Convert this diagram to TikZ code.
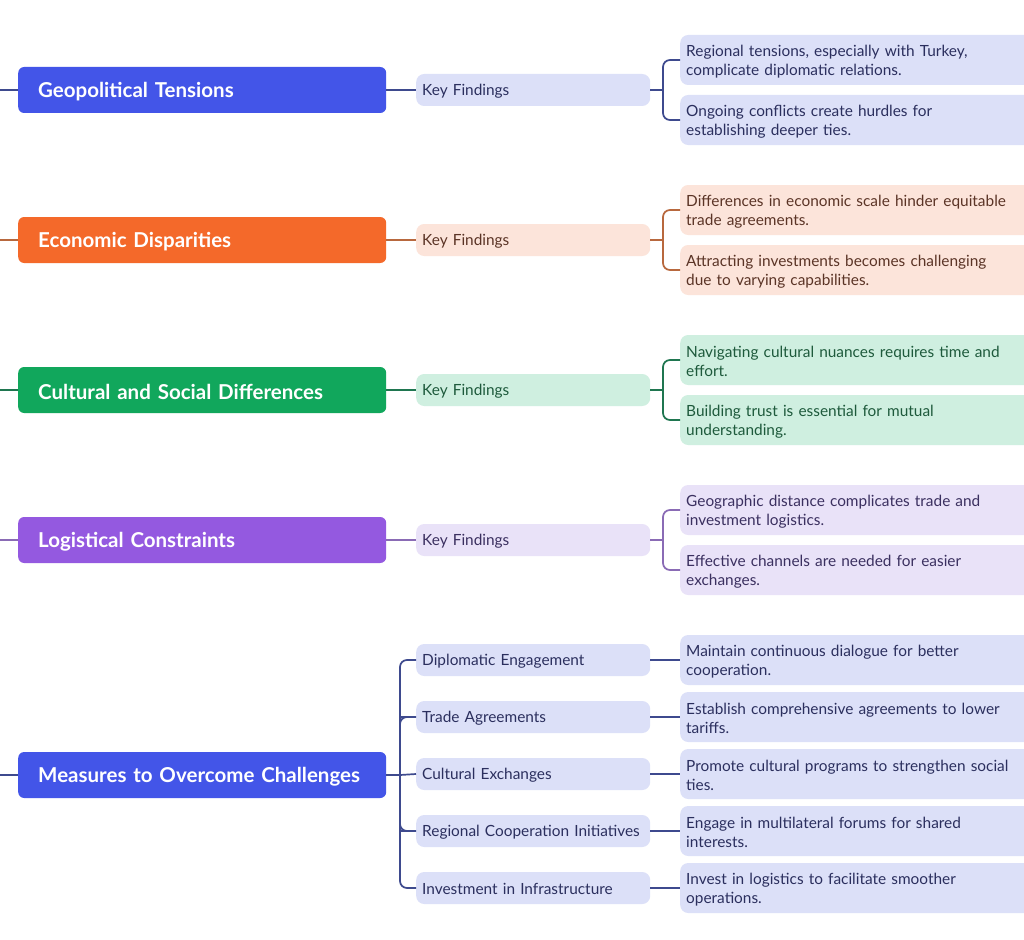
\documentclass[tikz,border=0pt]{standalone}
\usepackage{fontspec}
\setmainfont{Lato}
\definecolor{blueM}{HTML}{4355E8}
\definecolor{blueL}{HTML}{DCE0F8}
\definecolor{blueLine}{HTML}{3E4A8E}
\definecolor{blueText}{HTML}{2B2F5E}
\definecolor{orangeM}{HTML}{F4692A}
\definecolor{orangeL}{HTML}{FCE4DA}
\definecolor{orangeLine}{HTML}{B8683E}
\definecolor{orangeText}{HTML}{5B3426}
\definecolor{greenM}{HTML}{11A75C}
\definecolor{greenL}{HTML}{CFEFE0}
\definecolor{greenLine}{HTML}{1F7650}
\definecolor{greenText}{HTML}{1E5A3C}
\definecolor{purpleM}{HTML}{9459E0}
\definecolor{purpleL}{HTML}{E9E2F8}
\definecolor{purpleLine}{HTML}{8A6BB5}
\definecolor{purpleText}{HTML}{3B3060}
\tikzset{
  mainbox/.style={rounded corners=6pt, minimum height=46pt, text width=328pt, inner xsep=20pt, inner ysep=0pt, align=left, text=white, font=\fontsize{20.5}{24}\selectfont\bfseries, execute at begin node=\rule{0pt}{18.5pt}},
  subbox/.style={rounded corners=8pt, minimum height=32pt, text width=222pt, inner xsep=6pt, inner ysep=0pt, align=left, font=\fontsize{15.4}{19}\selectfont, execute at begin node=\rule{0pt}{13.5pt}},
  leafbox/.style={rounded corners=8pt, minimum height=50pt, text width=340pt, inner xsep=6pt, inner ysep=0pt, align=left, font=\fontsize{15.4}{19}\selectfont, execute at begin node=\rule{0pt}{15pt}},
  conn/.style={line width=1.7pt},
}
\newcommand{\mybranch}[6]{%
  \node[mainbox, fill=#3M, anchor=west] (#1) at (18,#2) {\mbox{#4}};
  \coordinate (#1in) at (0,#2);
  \draw[conn, draw=#3Line] (#1in) -- (#1.west);
  \node[subbox, fill=#3L, text=#3Text, anchor=west] (#1k) at (416,#2) {Key Findings};
  \draw[conn, draw=#3Line] (#1.east) -- (#1k.west);
  \node[leafbox, fill=#3L, text=#3Text, anchor=west] (#1a) at (680,{#2-30}) {#5};
  \node[leafbox, fill=#3L, text=#3Text, anchor=west] (#1b) at (680,{#2+30}) {#6};
  \coordinate (#1x) at (663,#2);
  \draw[conn, draw=#3Line] (#1k.east) -- (#1x);
  \draw[conn, draw=#3Line, rounded corners=7pt] (#1a.west) -| (#1x) |- (#1b.west);
}
\begin{document}
\begin{tikzpicture}[x=1pt, y=-1pt]
\useasboundingbox (0,0) rectangle (1024,939);
\clip (0,0) rectangle (1024,939);
\fill[white] (0,0) rectangle (1024,939);

\mybranch{geo}{90}{blue}{Geopolitical Tensions}{Regional tensions, especially with Turkey,\\complicate diplomatic relations.}{Ongoing conflicts create hurdles for\\establishing deeper ties.}
\mybranch{eco}{240}{orange}{Economic Disparities}{Differences in economic scale hinder equitable\\trade agreements.}{Attracting investments becomes challenging\\due to varying capabilities.}
\mybranch{cul}{390}{green}{Cultural and Social Differences}{Navigating cultural nuances requires time and\\effort.}{Building trust is essential for mutual\\understanding.}
\mybranch{log}{540}{purple}{Logistical Constraints}{Geographic distance complicates trade and\\investment logistics.}{Effective channels are needed for easier\\exchanges.}

% Measures
\node[mainbox, fill=blueM, anchor=west] (mea) at (18,775) {\mbox{Measures to Overcome Challenges}};
\coordinate (meain) at (0,775);
\draw[conn, draw=blueLine] (meain) -- (mea.west);
\coordinate (meax) at (400,775);
\draw[conn, draw=blueLine] (mea.east) -- (meax);

\node[subbox, fill=blueL, text=blueText, anchor=west] (s1) at (416,660) {Diplomatic Engagement};
\node[subbox, fill=blueL, text=blueText, anchor=west] (s2) at (416,717) {Trade Agreements};
\node[subbox, fill=blueL, text=blueText, anchor=west] (s3) at (416,774) {Cultural Exchanges};
\node[subbox, fill=blueL, text=blueText, anchor=west] (s4) at (416,831) {Regional Cooperation Initiatives};
\node[subbox, fill=blueL, text=blueText, anchor=west] (s5) at (416,888) {Investment in Infrastructure};

\node[leafbox, fill=blueL, text=blueText, anchor=west] (t1) at (680,660) {Maintain continuous dialogue for better\\cooperation.};
\node[leafbox, fill=blueL, text=blueText, anchor=west] (t2) at (680,717) {Establish comprehensive agreements to lower\\tariffs.};
\node[leafbox, fill=blueL, text=blueText, anchor=west] (t3) at (680,774) {Promote cultural programs to strengthen social\\ties.};
\node[leafbox, fill=blueL, text=blueText, anchor=west] (t4) at (680,831) {Engage in multilateral forums for shared\\interests.};
\node[leafbox, fill=blueL, text=blueText, anchor=west] (t5) at (680,888) {Invest in logistics to facilitate smoother\\operations.};

\draw[conn, draw=blueLine, rounded corners=7pt] (s1.west) -| (meax) |- (s5.west);
\draw[conn, draw=blueLine, rounded corners=7pt] (s2.west) -- ++(-8,0) -| (meax);
\draw[conn, draw=blueLine, rounded corners=7pt] (s4.west) -- ++(-8,0) -| (meax);
\draw[conn, draw=blueLine] (meax) -- (s3.west);
\foreach \i in {1,...,5} {\draw[conn, draw=blueLine] (s\i.east) -- (t\i.west);}
\end{tikzpicture}
\end{document}
